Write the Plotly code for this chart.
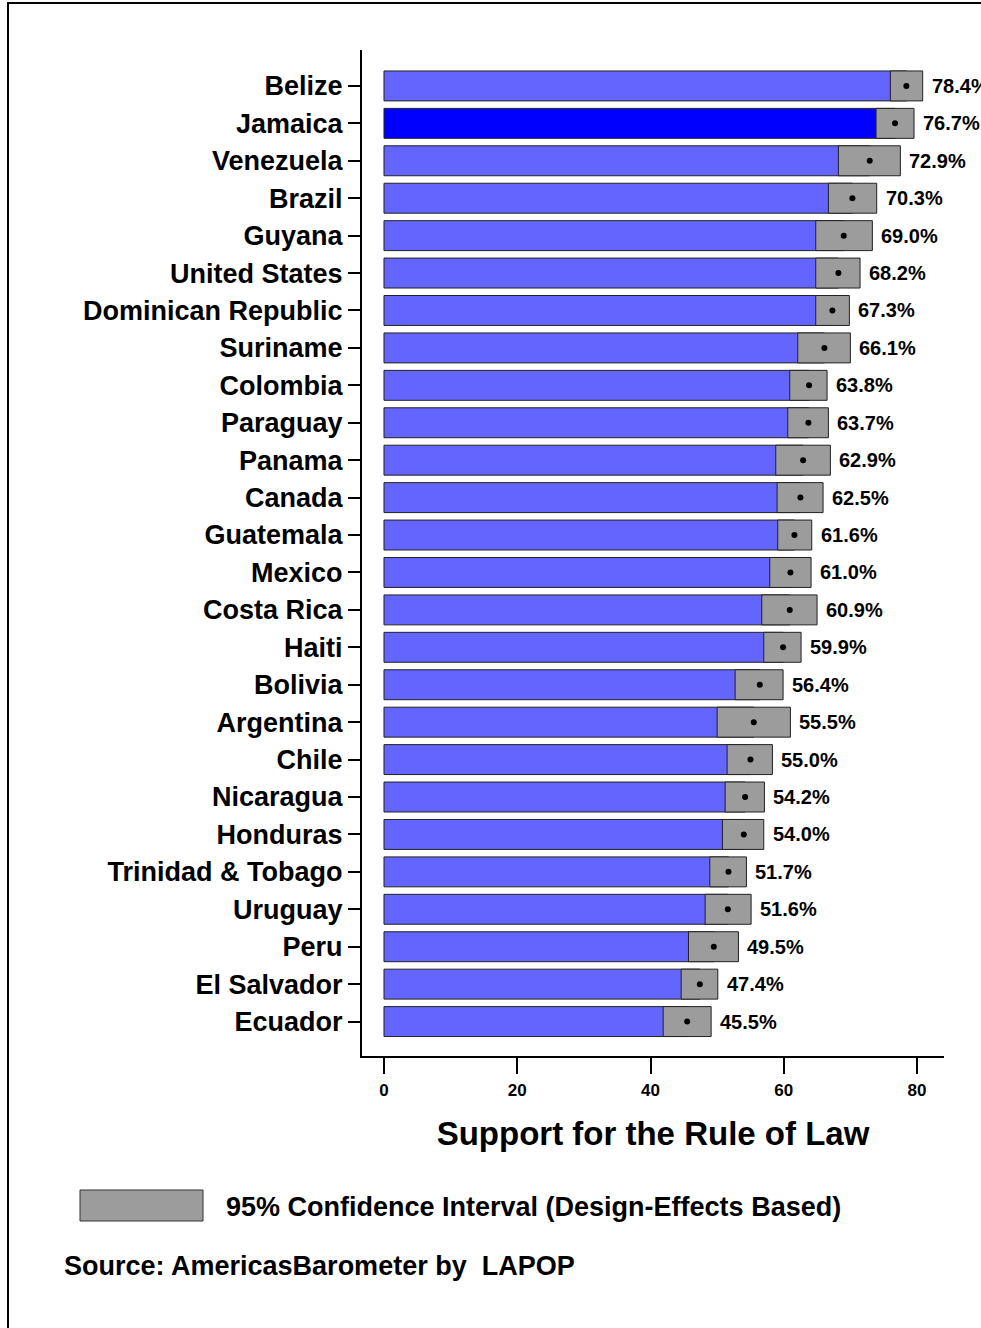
import plotly.graph_objects as go

countries = ["Belize", "Jamaica", "Venezuela", "Brazil", "Guyana", "United States",
             "Dominican Republic", "Suriname", "Colombia", "Paraguay", "Panama", "Canada",
             "Guatemala", "Mexico", "Costa Rica", "Haiti", "Bolivia", "Argentina", "Chile",
             "Nicaragua", "Honduras", "Trinidad & Tobago", "Uruguay", "Peru", "El Salvador",
             "Ecuador"]
means = [78.4, 76.7, 72.9, 70.3, 69.0, 68.2, 67.3, 66.1, 63.8, 63.7, 62.9, 62.5, 61.6,
         61.0, 60.9, 59.9, 56.4, 55.5, 55.0, 54.2, 54.0, 51.7, 51.6, 49.5, 47.4, 45.5]
ci_low = [76.0, 73.85, 68.2, 66.7, 64.8, 64.8, 64.8, 62.1, 60.9, 60.6, 58.8, 59.0, 59.1,
          57.9, 56.7, 57.0, 52.7, 50.0, 51.5, 51.2, 50.8, 48.9, 48.2, 45.7, 44.6, 41.9]
ci_high = [80.85, 79.55, 77.5, 73.95, 73.3, 71.45, 69.85, 70.0, 66.5, 66.7, 67.0, 65.9, 64.2,
           64.1, 65.0, 62.6, 59.9, 61.0, 58.3, 57.1, 57.0, 54.4, 55.1, 53.2, 50.1, 49.1]
highlight = "Jamaica"
x_ticks = [0, 20, 40, 60, 80]

BLUE = "#6464FF"
BLUE_HI = "#0000FF"
GRAY = "#9C9C9C"
FONT = "Liberation Sans"

ypos = list(range(len(countries)))
bar_colors = [BLUE_HI if c == highlight else BLUE for c in countries]

fig = go.Figure()
fig.add_trace(go.Bar(
    x=means, y=ypos, orientation="h", width=0.8,
    marker=dict(color=bar_colors, line=dict(color="#222222", width=1)),
    showlegend=False, hoverinfo="skip"))
fig.add_trace(go.Bar(
    x=[h - l for l, h in zip(ci_low, ci_high)], base=ci_low, y=ypos, orientation="h",
    width=0.8, marker=dict(color=GRAY, line=dict(color="#222222", width=1)),
    showlegend=False, hoverinfo="skip"))
fig.add_trace(go.Scatter(
    x=means, y=ypos, mode="markers",
    marker=dict(color="black", size=6), showlegend=False, hoverinfo="skip"))

for m, h, y in zip(means, ci_high, ypos):
    fig.add_annotation(x=h, y=y, xref="x", yref="y", text=f"<b>{m:.1f}%</b>",
                       showarrow=False, xanchor="left", yanchor="middle", xshift=7,
                       font=dict(family=FONT, size=20, color="black"))

L, R, T, B = 362, 944, 50, 1056
W, H = 981, 1328
pw, ph = R - L, B - T


def px(x):
    return (x - L) / pw


def py(y):
    return (B - y) / ph


# outer frame
fig.add_shape(type="rect", xref="paper", yref="paper",
              x0=px(8), x1=px(995), y0=py(1340), y1=py(3),
              line=dict(color="black", width=2), fillcolor="rgba(0,0,0,0)", layer="below")
# legend box
fig.add_shape(type="rect", xref="paper", yref="paper",
              x0=px(80), x1=px(203), y0=py(1221), y1=py(1190),
              line=dict(color="#333333", width=1), fillcolor=GRAY)
fig.add_annotation(xref="paper", yref="paper", x=px(224), y=py(1207),
                   text="<b>95% Confidence Interval (Design-Effects Based)</b>",
                   showarrow=False, xanchor="left", yanchor="middle",
                   font=dict(family=FONT, size=27, color="black"))
fig.add_annotation(xref="paper", yref="paper", x=px(62), y=py(1266),
                   text="<b>Source: AmericasBarometer by  LAPOP</b>",
                   showarrow=False, xanchor="left", yanchor="middle",
                   font=dict(family=FONT, size=27, color="black"))

fig.update_layout(
    width=W, height=H, barmode="overlay",
    margin=dict(l=L, r=W - R, t=T, b=H - B, autoexpand=False),
    plot_bgcolor="white", paper_bgcolor="white",
    font=dict(family=FONT, color="black"),
    xaxis=dict(range=[-3.3, 84.05], tickvals=x_ticks,
               ticktext=[f"<b>{v}</b>" for v in x_ticks],
               tickfont=dict(size=17, family=FONT), ticks="outside", ticklen=16,
               tickwidth=1.5, tickcolor="black", showline=True, linecolor="black",
               linewidth=2, showgrid=False, zeroline=False, ticklabelstandoff=2,
               title=dict(text="<b>Support for the Rule of Law</b>",
                          font=dict(size=33, family=FONT), standoff=22)),
    yaxis=dict(range=[25.92, -0.96], tickvals=ypos,
               ticktext=[f"<b>{c}</b>" for c in countries],
               tickfont=dict(size=27, family=FONT), ticks="outside", ticklen=12,
               tickwidth=1.5, tickcolor="black", showline=True, linecolor="black",
               linewidth=2, showgrid=False, zeroline=False),
)

fig.write_html("out.html", config={"displayModeBar": False},
               post_script="document.body.style.margin='0';document.body.style.overflow='hidden';")
